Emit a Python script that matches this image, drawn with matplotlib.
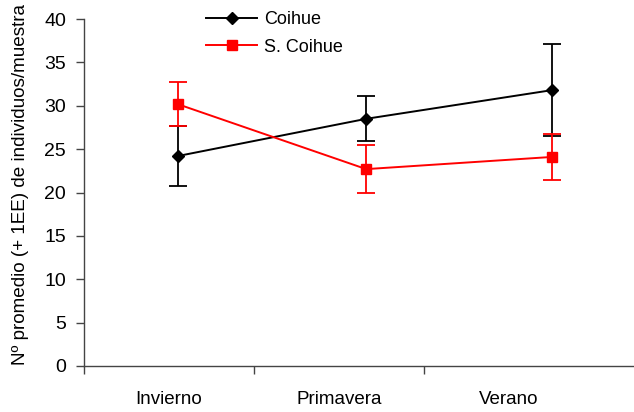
import matplotlib
matplotlib.use('Agg')
import matplotlib.pyplot as plt

# Seasons and mean counts (+/- 1 SE) per sample
seasons = ['Invierno', 'Primavera', 'Verano']
coihue_mean = [24.2, 28.5, 31.8]
coihue_se = [3.45, 2.6, 5.3]
scoihue_mean = [30.2, 22.7, 24.1]
scoihue_se = [2.5, 2.75, 2.7]

# category slots on the x axis (boundaries at 0,1,2), points sit a bit right of centre
label_pos = [0.5, 1.5, 2.5]
point_pos = [0.55, 1.66, 2.75]

plt.rcParams['font.family'] = ['Liberation Sans', 'DejaVu Sans']

fig = plt.figure(figsize=(6.34, 4.12), dpi=100)
ax = fig.add_axes([0.1325, 0.1117, 0.8675, 0.842])

ax.errorbar(point_pos, coihue_mean, yerr=coihue_se, color='black', lw=1.4,
            marker='D', markersize=6.5, capsize=6.5, capthick=1.3, elinewidth=1.3,
            label='Coihue')
ax.errorbar(point_pos, scoihue_mean, yerr=scoihue_se, color='#ff0000', lw=1.4,
            marker='s', markersize=6.5, capsize=6.5, capthick=1.3, elinewidth=1.3,
            label='S. Coihue')

ax.set_ylim(0, 40)
ax.set_yticks(range(0, 41, 5))
ax.set_xlim(0, 3.235)
ax.set_xticks([0, 1, 2])
ax.set_xticklabels([])
ax.set_xticks(label_pos, minor=True)
ax.set_xticklabels(seasons, minor=True)
ax.tick_params(axis='x', which='minor', length=0, pad=18, labelsize=13.5)
ax.tick_params(axis='x', which='major', direction='out', length=6, width=1, color='#444444')
ax.tick_params(axis='y', direction='out', length=6, width=1, color='#444444',
               labelsize=14, pad=7)

for side in ['top', 'right']:
    ax.spines[side].set_visible(False)
for side in ['left', 'bottom']:
    ax.spines[side].set_color('#444444')
    ax.spines[side].set_linewidth(1)

fig.text(0.032, 0.113, 'Nº promedio (+ 1EE) de individuos/muestra', rotation=90,
         ha='center', va='bottom', fontsize=13.6)

handles, labels = ax.get_legend_handles_labels()
handles = [h[0] for h in handles]
fig.legend(handles, labels, loc='upper left', bbox_to_anchor=(0.30, 1.013),
           frameon=False, fontsize=13, handlelength=2.8, labelspacing=0.6,
           handletextpad=0.4)

fig.savefig('out.png', dpi=100)
